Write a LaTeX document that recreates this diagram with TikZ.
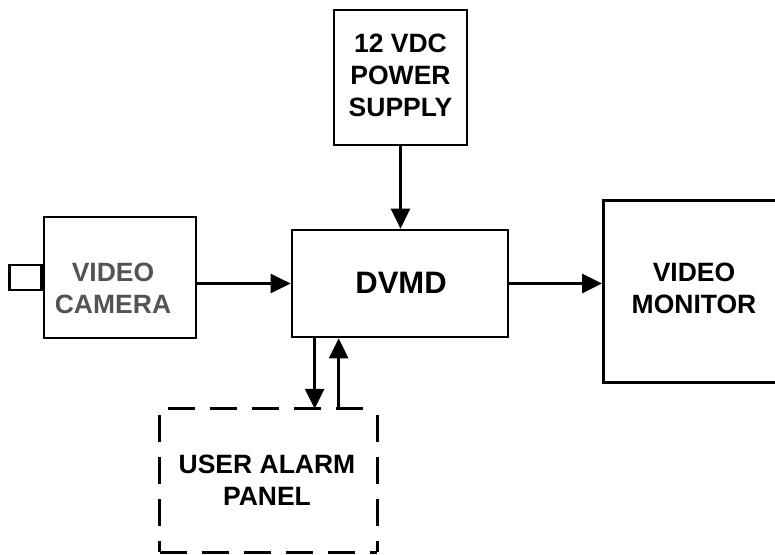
\documentclass[tikz,border=0pt]{standalone}
\usepackage{fontspec}
\setmainfont{Liberation Sans}
\usetikzlibrary{arrows.meta,calc}
\begin{document}
\begin{tikzpicture}[x=1pt,y=-1pt,
  box/.style={draw=black,line width=2.7pt,minimum width=#1,inner sep=0pt},
  lbl/.style={font=\fontsize{26.5}{32}\selectfont\bfseries,align=center,inner sep=0pt},
  arr/.style={line width=2.7pt,-{Triangle[length=20pt,width=19pt]}},
  dsh/.style={line width=2.7pt,dash pattern=on 27pt off 15pt}]
\useasboundingbox (0,0) rectangle (775,554);
\clip (0,0) rectangle (775,554);
% boxes
\node[box=133pt,minimum height=135pt] (psu) at (400.5,77.5) {};
\node[lbl] (psut) at (400.5,75) {12 VDC\\POWER\\SUPPLY};
\node[box=152pt,minimum height=121pt] (cam) at (120,277.5) {};
\node[lbl,text=black!67] (camt) at (113,288) {VIDEO\\CAMERA};
\node[box=32pt,minimum height=25pt,anchor=east] (lens) at (cam.west) {};
\node[box=216pt,minimum height=107pt] (dvmd) at (400,283.5) {};
\node[lbl,font=\fontsize{31}{36}\selectfont\bfseries] (dvmdt) at (401,282.5) {DVMD};
\node[box=200pt,minimum height=182pt,anchor=north west] (mon) at (602,199) {};
\node[lbl] (mont) at (694,288.5) {VIDEO\\MONITOR};
\node[minimum width=217pt,minimum height=143pt,inner sep=0pt] (ual) at (268.5,480.5) {};
\node[lbl] (ualt) at (267,480) {USER ALARM\\PANEL};
% dashed outline of user alarm panel
\draw[dsh,dash phase=34pt] (ual.north west) -- (ual.north east);
\draw[dsh,dash phase=36pt] (ual.north west) -- (ual.south west);
\draw[dsh,dash phase=36pt] (ual.north east) -- (ual.south east);
\draw[dsh] (ual.south west) -- (ual.south east);
% connectors
\draw[arr] (psu.south) -- (psu.south |- dvmd.north);
\draw[arr] (cam.east |- dvmd.west) -- (dvmd.west);
\draw[arr] (dvmd.east) -- (dvmd.east -| mon.west);
\coordinate (dn) at ($(dvmd.south west)+(24,0)$);
\coordinate (up) at ($(dvmd.south west)+(48,0)$);
\draw[arr] (dn) -- (dn |- ual.north);
\draw[arr] (up |- ual.north) -- (up);
\end{tikzpicture}
\end{document}
